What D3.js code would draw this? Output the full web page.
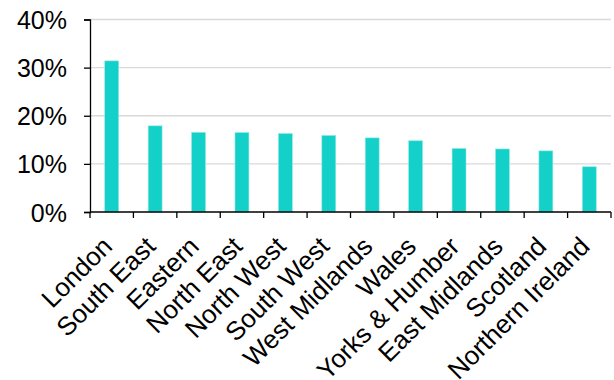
<!DOCTYPE html>
<html>
<head>
<meta charset="utf-8">
<script src="https://cdn.jsdelivr.net/npm/d3@7"></script>
<style>
  body { margin: 0; background: #fff; }
  text { font-family: "Liberation Sans", Arial, sans-serif; }
</style>
</head>
<body>
<div id="chart"></div>
<script>
// data
var regions = ["London", "South East", "Eastern", "North East", "North West", "South West",
               "West Midlands", "Wales", "Yorks & Humber", "East Midlands", "Scotland", "Northern Ireland"];
var shares = [31.4, 17.9, 16.55, 16.5, 16.3, 15.9, 15.4, 14.8, 13.2, 13.1, 12.7, 9.4];
var yTicks = [0, 10, 20, 30, 40];

var width = 614, height = 380;
var margin = {top: 19.5, right: 3, bottom: 168, left: 90};

var svg = d3.select("#chart").append("svg")
    .attr("width", width)
    .attr("height", height);

var x = d3.scaleBand()
    .domain(regions)
    .range([margin.left, width - margin.right])
    .paddingInner(0.68)
    .paddingOuter(0.34);

var y = d3.scaleLinear()
    .domain([0, 40])
    .range([height - margin.bottom, margin.top]);

// gridlines
svg.append("g")
  .selectAll("line")
  .data(yTicks.filter(function(d) { return d > 0; }))
  .join("line")
    .attr("x1", margin.left)
    .attr("x2", width - margin.right)
    .attr("y1", function(d) { return y(d); })
    .attr("y2", function(d) { return y(d); })
    .attr("stroke", "#d9d9d9")
    .attr("stroke-width", 1.3);

// bars
svg.append("g")
  .selectAll("rect")
  .data(regions)
  .join("rect")
    .attr("x", function(d) { return x(d); })
    .attr("width", x.bandwidth())
    .attr("y", function(d, i) { return y(shares[i]); })
    .attr("height", function(d, i) { return y(0) - y(shares[i]); })
    .attr("fill", "#13d0c9")
    .attr("stroke", "#8fe8e4")
    .attr("stroke-width", 0.6);

// y axis
var yAxis = svg.append("g")
    .attr("transform", "translate(" + margin.left + ",0)")
    .call(d3.axisLeft(y).tickValues(yTicks).tickFormat(function(d) { return d + "%"; })
      .tickSize(6).tickPadding(17));
yAxis.select(".domain").attr("stroke", "#000").attr("stroke-width", 1.3);
yAxis.selectAll(".tick line").attr("stroke", "#000").attr("stroke-width", 1.3);
yAxis.selectAll("text")
    .attr("font-size", 25)
    .attr("fill", "#000")
    .attr("dy", "0.36em");

// x axis with ticks at category boundaries
var step = x.step();
var bounds = d3.range(regions.length + 1).map(function(i) { return margin.left + i * step; });
var xAxis = svg.append("g");
xAxis.append("line")
    .attr("x1", margin.left)
    .attr("x2", width - margin.right)
    .attr("y1", y(0)).attr("y2", y(0))
    .attr("stroke", "#000").attr("stroke-width", 1.3);
xAxis.selectAll(".bt")
  .data(bounds)
  .join("line")
    .attr("class", "bt")
    .attr("x1", function(d) { return d; })
    .attr("x2", function(d) { return d; })
    .attr("y1", y(0))
    .attr("y2", y(0) + 6)
    .attr("stroke", "#000").attr("stroke-width", 1.3);

xAxis.selectAll("text")
  .data(regions)
  .join("text")
    .attr("text-anchor", "end")
    .attr("font-size", 26)
    .attr("fill", "#000")
    .attr("transform", function(d) {
      var cx = x(d) + x.bandwidth() / 2 + 2;
      var cy = y(0) + 36;
      return "translate(" + cx + "," + cy + ") rotate(-45)";
    })
    .text(function(d) { return d; });
</script>
</body>
</html>
